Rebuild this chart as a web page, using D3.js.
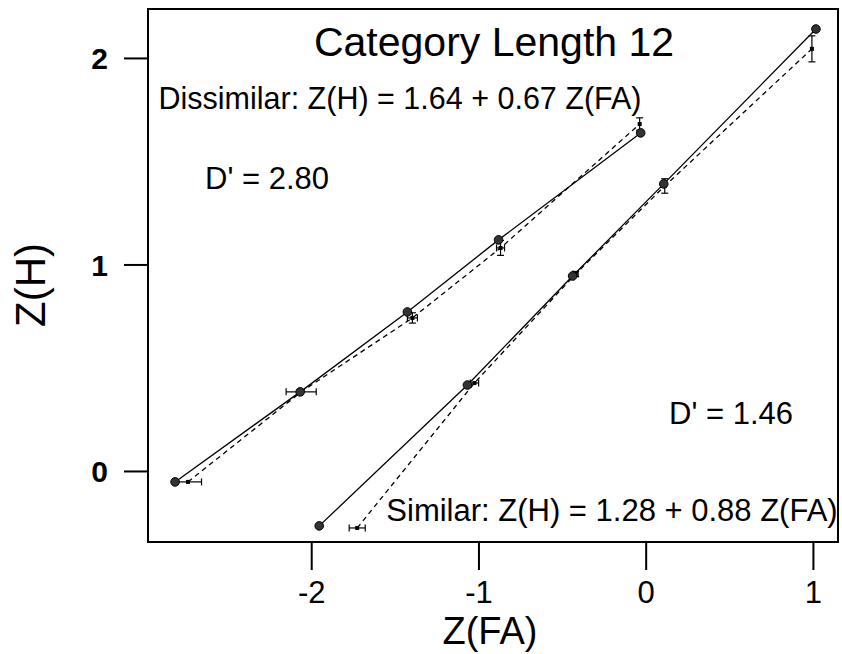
<!DOCTYPE html>
<html><head><meta charset="utf-8">
<script src="https://cdn.jsdelivr.net/npm/d3@7"></script>
<style>body{margin:0;background:#fff}svg{display:block}text{font-family:"Liberation Sans",Arial,sans-serif;fill:#000}</style>
</head><body><svg id="c" width="842" height="654"></svg>
<script>
// Dissimilar condition: observed (solid, filled markers)
const dissimX = [-2.814, -2.066, -1.425, -0.880, -0.030];
const dissimY = [-0.053, 0.383, 0.770, 1.119, 1.637];
// Dissimilar condition: predicted (dashed, with error bars)
const dissimPredX = [-2.737, -2.060, -1.395, -0.868, -0.036];
const dissimPredY = [-0.053, 0.383, 0.741, 1.080, 1.680];
const dissimPredXErr = [0.081, 0.090, 0.030, 0.024, 0.010];
const dissimPredYErr = [0.005, 0.005, 0.025, 0.036, 0.030];
// Similar condition: observed
const simX = [-1.952, -1.066, -0.437, 0.108, 1.018];
const simY = [-0.266, 0.416, 0.944, 1.390, 2.140];
// Similar condition: predicted
const simPredX = [-1.725, -1.024, -0.419, 0.114, 0.994];
const simPredY = [-0.276, 0.426, 0.954, 1.380, 2.044];
const simPredXErr = [0.048, 0.025, 0.015, 0.010, 0.008];
const simPredYErr = [0.005, 0.005, 0.012, 0.035, 0.063];

const xTicks = [-2, -1, 0, 1];
const yTicks = [0, 1, 2];
const titleText = "Category Length 12";
const dissimEq = "Dissimilar: Z(H) = 1.64 + 0.67 Z(FA)";
const simEq = "Similar: Z(H) = 1.28 + 0.88 Z(FA)";
const dissimD = "D' = 2.80";
const simD = "D' = 1.46";
const xLabel = "Z(FA)";
const yLabel = "Z(H)";

const svg = d3.select("#c");
const L = 148, R = 838, T = 9, B = 542;
const x = d3.scaleLinear().domain([-2.976, 1.150]).range([L, R]);
const y = d3.scaleLinear().domain([-0.344, 2.237]).range([B, T]);

// frame
svg.append("rect").attr("x", L).attr("y", T).attr("width", R - L).attr("height", B - T)
  .attr("fill", "none").attr("stroke", "#000").attr("stroke-width", 2);

// axes
const xAxis = svg.append("g").attr("transform", `translate(0,${B})`)
  .call(d3.axisBottom(x).tickValues(xTicks).tickSize(28).tickPadding(11).tickFormat(d => String(d)));
const yAxis = svg.append("g").attr("transform", `translate(${L},0)`)
  .call(d3.axisLeft(y).tickValues(yTicks).tickSize(24).tickPadding(16).tickFormat(d => String(d)));
[xAxis, yAxis].forEach(g => {
  g.select(".domain").remove();
  g.attr("font-family", null).attr("font-size", null);
  g.selectAll(".tick line").attr("stroke", "#000").attr("stroke-width", 2);
  g.selectAll(".tick text").style("font-family", "Liberation Sans, Arial, sans-serif").attr("fill", "#000");
});
xAxis.selectAll(".tick text").style("font-size", "31px");
yAxis.selectAll(".tick text").style("font-size", "30px").style("font-weight", "bold").attr("dy", "0.36em");

const line = d3.line().x(d => x(d[0])).y(d => y(d[1]));
function series(xs, ys, dashed) {
  svg.append("path").datum(xs.map((v, i) => [v, ys[i]]))
    .attr("d", line).attr("fill", "none").attr("stroke", "#000")
    .attr("stroke-width", 1.3).attr("stroke-dasharray", dashed ? "5,4" : null);
}
series(dissimX, dissimY, false);
series(dissimPredX, dissimPredY, true);
series(simX, simY, false);
series(simPredX, simPredY, true);

function errbars(xs, ys, xe, ye) {
  const g = svg.append("g").attr("stroke", "#000").attr("stroke-width", 1.2);
  xs.forEach((v, i) => {
    const cx = x(v), cy = y(ys[i]);
    const x0 = x(v - xe[i]), x1 = x(v + xe[i]);
    const y0 = y(ys[i] - ye[i]), y1 = y(ys[i] + ye[i]);
    if (x1 - x0 > 4) {
      g.append("line").attr("x1", x0).attr("x2", x1).attr("y1", cy).attr("y2", cy);
      g.append("line").attr("x1", x0).attr("x2", x0).attr("y1", cy - 3.5).attr("y2", cy + 3.5);
      g.append("line").attr("x1", x1).attr("x2", x1).attr("y1", cy - 3.5).attr("y2", cy + 3.5);
    }
    if (y0 - y1 > 4) {
      g.append("line").attr("x1", cx).attr("x2", cx).attr("y1", y0).attr("y2", y1);
      g.append("line").attr("x1", cx - 3.5).attr("x2", cx + 3.5).attr("y1", y0).attr("y2", y0);
      g.append("line").attr("x1", cx - 3.5).attr("x2", cx + 3.5).attr("y1", y1).attr("y2", y1);
    }
    g.append("rect").attr("x", cx - 2).attr("y", cy - 2).attr("width", 4).attr("height", 4)
      .attr("fill", "#000").attr("stroke", "none");
  });
}
errbars(dissimPredX, dissimPredY, dissimPredXErr, dissimPredYErr);
errbars(simPredX, simPredY, simPredXErr, simPredYErr);

function markers(xs, ys) {
  svg.append("g").selectAll("circle").data(xs.map((v, i) => [v, ys[i]])).join("circle")
    .attr("cx", d => x(d[0])).attr("cy", d => y(d[1])).attr("r", 4.3)
    .attr("fill", "#333").attr("stroke", "#000").attr("stroke-width", 1);
}
markers(dissimX, dissimY);
markers(simX, simY);

function label(t, cx, cy, size, anchor) {
  svg.append("text").attr("x", cx).attr("y", cy).attr("font-size", size)
    .attr("text-anchor", anchor || "middle").attr("dominant-baseline", "central").text(t);
}
label(titleText, 494, 42, 41);
label(dissimEq, 400, 98, 30.5);
label(dissimD, 267, 178, 31);
label(simD, 731, 413, 31);
label(simEq, 612, 510, 31);
label(xLabel, 490, 631, 38);
svg.append("text").attr("transform", "translate(30,285) rotate(-90)").attr("font-size", 42)
  .attr("text-anchor", "middle").attr("dominant-baseline", "central").text(yLabel);
</script></body></html>
